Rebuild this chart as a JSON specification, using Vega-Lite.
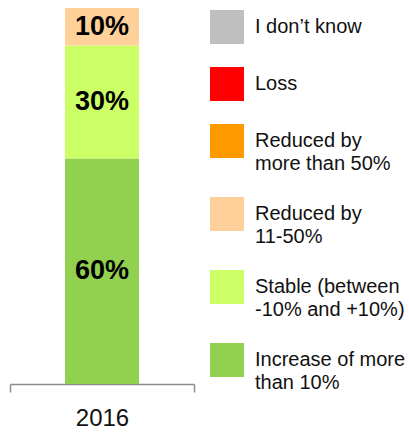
{
  "$schema": "https://vega.github.io/schema/vega-lite/v6.json",
  "width": 184,
  "height": 376,
  "autosize": "none",
  "padding": {"left": 10, "top": 8, "right": 215, "bottom": 48},
  "config": {
    "view": {"stroke": null},
    "font": "Liberation Sans",
    "style": {"guide-label": {"lineHeight": 23}}
  },
  "data": {
    "values": [
      {"year": "2016", "category": "Increase of more than 10%", "share": 0.6},
      {"year": "2016", "category": "Stable (between -10% and +10%)", "share": 0.3},
      {"year": "2016", "category": "Reduced by 11-50%", "share": 0.1}
    ]
  },
  "transform": [
    {"stack": "share", "groupby": ["year"], "sort": [{"field": "share", "order": "descending"}], "as": ["s0", "s1"]}
  ],
  "encoding": {
    "x": {
      "field": "year",
      "type": "nominal",
      "scale": {"paddingInner": 0, "paddingOuter": 0},
      "axis": {
        "title": null,
        "labelAngle": 0,
        "domainColor": "#8c8c8c",
        "domainWidth": 1.5,
        "tickColor": "#8c8c8c",
        "tickWidth": 1.5,
        "tickSize": 8,
        "tickBand": "extent",
        "labelFont": "Liberation Sans",
        "labelFontSize": 24,
        "labelColor": "#111111",
        "labelPadding": 14
      }
    }
  },
  "layer": [
    {
      "mark": {"type": "bar", "width": 74},
      "encoding": {
        "y": {"field": "s0", "type": "quantitative", "scale": {"domain": [0, 1], "nice": false}, "axis": null},
        "y2": {"field": "s1"},
        "color": {
          "field": "category",
          "type": "nominal",
          "scale": {
            "domain": ["I don’t know", "Loss", "Reduced by more than 50%", "Reduced by 11-50%", "Stable (between -10% and +10%)", "Increase of more than 10%"],
            "range": ["#BFBFBF", "#FF0000", "#FF9900", "#FFD09A", "#CCFF66", "#92D050"]
          },
          "legend": {
            "orient": "none",
            "legendX": 200,
            "legendY": 2,
            "title": null,
            "padding": 0,
            "symbolType": "square",
            "symbolSize": 1156,
            "symbolStrokeWidth": 0,
            "symbolOpacity": 1,
            "labelFont": "Liberation Sans",
            "labelFontSize": 20,
            "labelColor": "#111111",
            "labelLimit": 220,
            "labelOffset": 11,
            "rowPadding": 23,
            "labelExpr": "datum.label == 'Reduced by more than 50%' ? ['Reduced by', 'more than 50%'] : datum.label == 'Reduced by 11-50%' ? ['Reduced by', '11-50%'] : datum.label == 'Stable (between -10% and +10%)' ? ['Stable (between', '-10% and +10%)'] : datum.label == 'Increase of more than 10%' ? ['Increase of more', 'than 10%'] : datum.label"
          }
        }
      }
    },
    {
      "transform": [
        {"fold": ["s0", "s1"], "as": ["edge", "pos"]}
      ],
      "mark": {"type": "text", "font": "Liberation Sans", "fontWeight": "bold", "fontSize": 27, "color": "#000000", "baseline": "middle", "align": "center"},
      "encoding": {
        "y": {"field": "pos", "aggregate": "mean", "type": "quantitative", "axis": null},
        "text": {"field": "share", "type": "quantitative", "format": ".0%"}
      }
    }
  ]
}
